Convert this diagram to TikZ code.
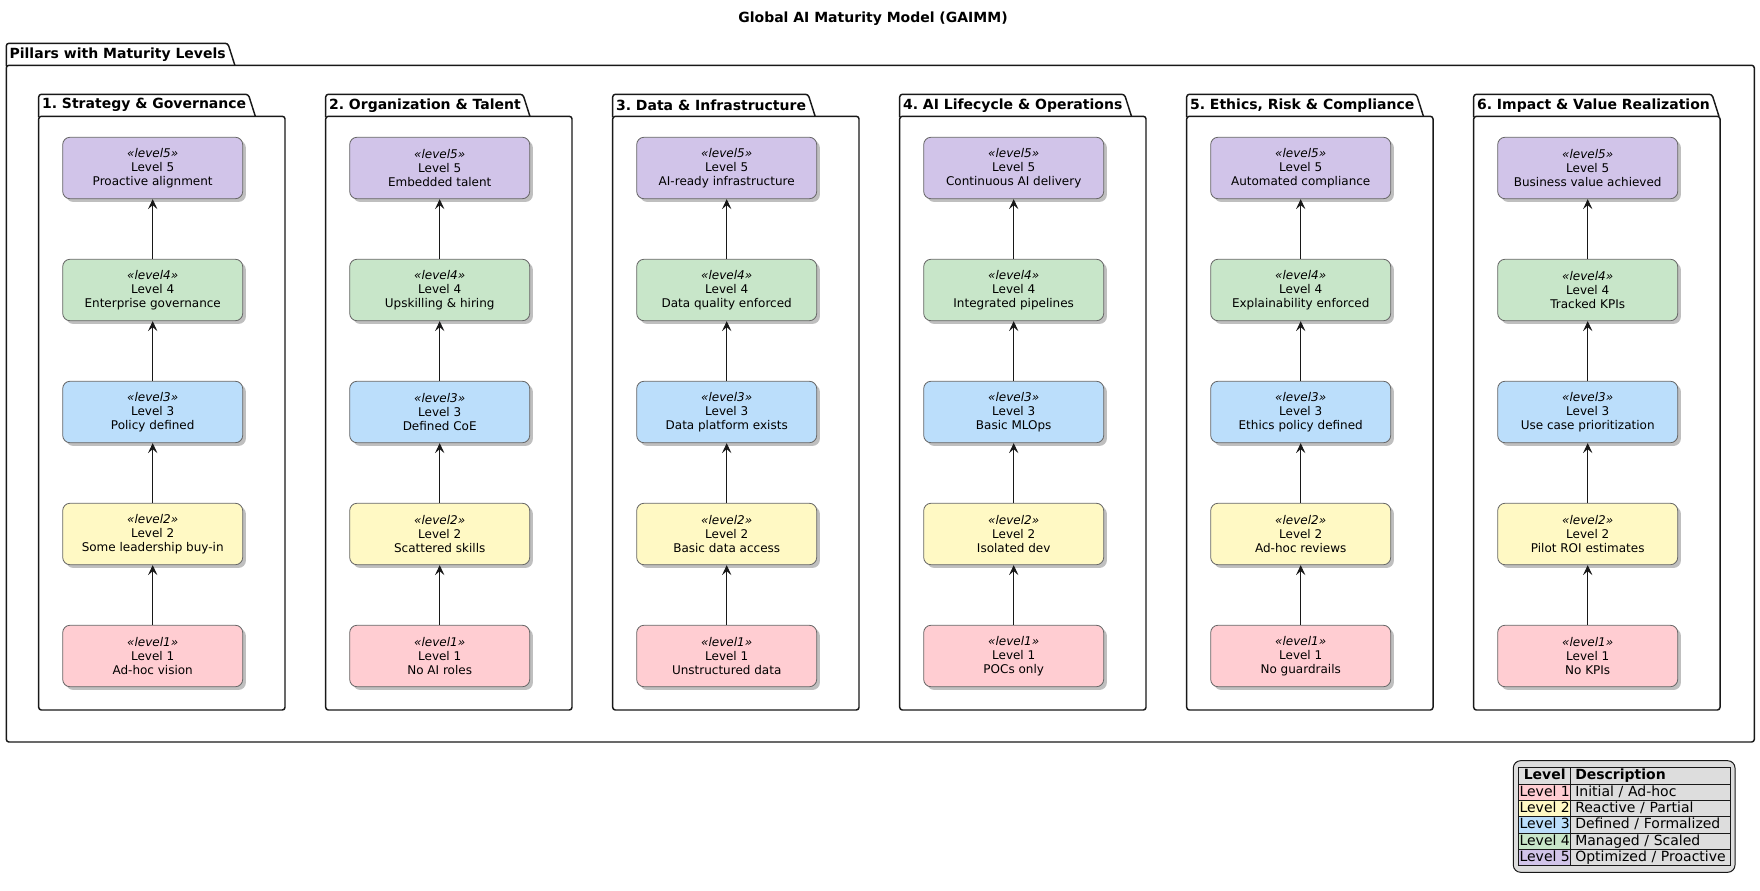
\documentclass[tikz,border=0pt]{standalone}
\usepackage{fontspec}
\setmainfont{DejaVu Sans}
\usetikzlibrary{arrows.meta,shadows,calc}
\frenchspacing

\definecolor{lvone}{HTML}{FFCDD2}
\definecolor{lvtwo}{HTML}{FFF9C4}
\definecolor{lvthree}{HTML}{BBDEFB}
\definecolor{lvfour}{HTML}{C8E6C9}
\definecolor{lvfive}{HTML}{D1C4E9}
\definecolor{legendgray}{HTML}{DDDDDD}
\definecolor{inkline}{HTML}{181818}

% package frame: body plus a tab carrying the label
\newcommand{\pkgbox}[6]{% #1 name, #2 left, #3 top, #4 width, #5 height, #6 label
  \node[tablabel, anchor=west] (#1) at (#2+1.2, #3+11) {#6};
  \draw[pkgline, rounded corners=2pt]
    (#2, #3+22) -- (#2+#4, #3+22) -- (#2+#4, #3+#5) -- (#2, #3+#5) -- cycle;
  \draw[pkgline, rounded corners=2pt]
    (#2, #3+23) -- (#2, #3) -- (#1.east |- 0,#3) -- ++(7, 22);
}

% three-line text of a maturity level box
\newcommand{\lvtext}[2]{\textit{«level#1»}\\Level #1\\#2}

% one pillar: frame, five level boxes, four arrows
\newcommand{\pillar}[7]{% #1 number, #2 heading, #3..#7 level 1..5 descriptions
  \pgfmathsetmacro{\pl}{38.7+287*(#1-1)}
  \pgfmathsetmacro{\pc}{\pl+114}
  \pkgbox{p#1}{\pl}{94.3}{246.3}{615.7}{#2}
  \node[lvlbox, fill=lvone]   (p#1l1) at (\pc, 656) {\lvtext{1}{#3}};
  \node[lvlbox, fill=lvtwo]   (p#1l2) at (\pc, 534) {\lvtext{2}{#4}};
  \node[lvlbox, fill=lvthree] (p#1l3) at (\pc, 412) {\lvtext{3}{#5}};
  \node[lvlbox, fill=lvfour]  (p#1l4) at (\pc, 290) {\lvtext{4}{#6}};
  \node[lvlbox, fill=lvfive]  (p#1l5) at (\pc, 168) {\lvtext{5}{#7}};
  \foreach \a/\b in {1/2,2/3,3/4,4/5} \draw[arr] (p#1l\a) -- (p#1l\b);
}

\begin{document}
\begin{tikzpicture}[x=0.75pt, y=-0.75pt,
  pkgline/.style={draw=inkline, line width=1.1pt, line join=round},
  tablabel/.style={inner xsep=1.6pt, inner ysep=0pt, outer sep=0pt,
    font=\bfseries\fontsize{10.5}{12}\selectfont},
  lvlbox/.style={draw=black!60, line width=0.6pt, rounded corners=5.5pt,
    minimum width=135pt, minimum height=46.1pt, inner sep=0pt, align=center,
    font=\fontsize{9}{10.5}\selectfont,
    drop shadow={shadow xshift=2.4pt, shadow yshift=-2.4pt, fill=black, opacity=0.25}},
  arr/.style={draw=inkline, line width=0.75pt,
    -{Stealth[length=7.5pt, width=7pt, inset=3pt]}},
  lgcell/.style={draw=inkline, line width=0.75pt, anchor=north west,
    inner sep=0pt, outer sep=0pt, minimum height=12.2pt,
    text height=8pt, text depth=2.2pt, font=\fontsize{10.5}{12}\selectfont},
  lglevel/.style={lgcell, minimum width=39pt},
  lgdesc/.style={lgcell, text width=112.9pt, inner xsep=3.4pt, align=left}]

\useasboundingbox (0,0) rectangle (1760,891);

% title
\node[font=\bfseries\fontsize{10.5}{12}\selectfont] (title) at (873,19)
  {Global AI Maturity Model (GAIMM)};

% enclosing package
\pkgbox{pillars}{6.3}{43.3}{1748}{698.7}{Pillars with Maturity Levels}

% the six pillars
\pillar{1}{1. Strategy \& Governance}
  {Ad-hoc vision}{Some leadership buy-in}{Policy defined}{Enterprise governance}{Proactive alignment}
\pillar{2}{2. Organization \& Talent}
  {No AI roles}{Scattered skills}{Defined CoE}{Upskilling \& hiring}{Embedded talent}
\pillar{3}{3. Data \& Infrastructure}
  {Unstructured data}{Basic data access}{Data platform exists}{Data quality enforced}{AI-ready infrastructure}
\pillar{4}{4. AI Lifecycle \& Operations}
  {POCs only}{Isolated dev}{Basic MLOps}{Integrated pipelines}{Continuous AI delivery}
\pillar{5}{5. Ethics, Risk \& Compliance}
  {No guardrails}{Ad-hoc reviews}{Ethics policy defined}{Explainability enforced}{Automated compliance}
\pillar{6}{6. Impact \& Value Realization}
  {No KPIs}{Pilot ROI estimates}{Use case prioritization}{Tracked KPIs}{Business value achieved}

% legend
\draw[draw=inkline, fill=legendgray, line width=0.75pt, rounded corners=5.5pt]
  (1513.3,760.7) rectangle (1735,872.3);
\node[lglevel, minimum height=12.75pt, font=\bfseries\fontsize{10.5}{12}\selectfont]
  (lgh1) at (1518.7,767.3) {Level};
\node[lgdesc, minimum height=12.75pt, font=\bfseries\fontsize{10.5}{12}\selectfont]
  (lgh2) at (1570.7,767.3) {Description};
\node[lglevel, fill=lvone]   (lgl1) at (1518.7,784.3) {Level 1};
\node[lgdesc]                (lgd1) at (1570.7,784.3) {Initial / Ad-hoc};
\node[lglevel, fill=lvtwo]   (lgl2) at (1518.7,800.6) {Level 2};
\node[lgdesc]                (lgd2) at (1570.7,800.6) {Reactive / Partial};
\node[lglevel, fill=lvthree] (lgl3) at (1518.7,816.9) {Level 3};
\node[lgdesc]                (lgd3) at (1570.7,816.9) {Defined / Formalized};
\node[lglevel, fill=lvfour]  (lgl4) at (1518.7,833.2) {Level 4};
\node[lgdesc]                (lgd4) at (1570.7,833.2) {Managed / Scaled};
\node[lglevel, fill=lvfive]  (lgl5) at (1518.7,849.5) {Level 5};
\node[lgdesc]                (lgd5) at (1570.7,849.5) {Optimized / Proactive};
\end{tikzpicture}
\end{document}
